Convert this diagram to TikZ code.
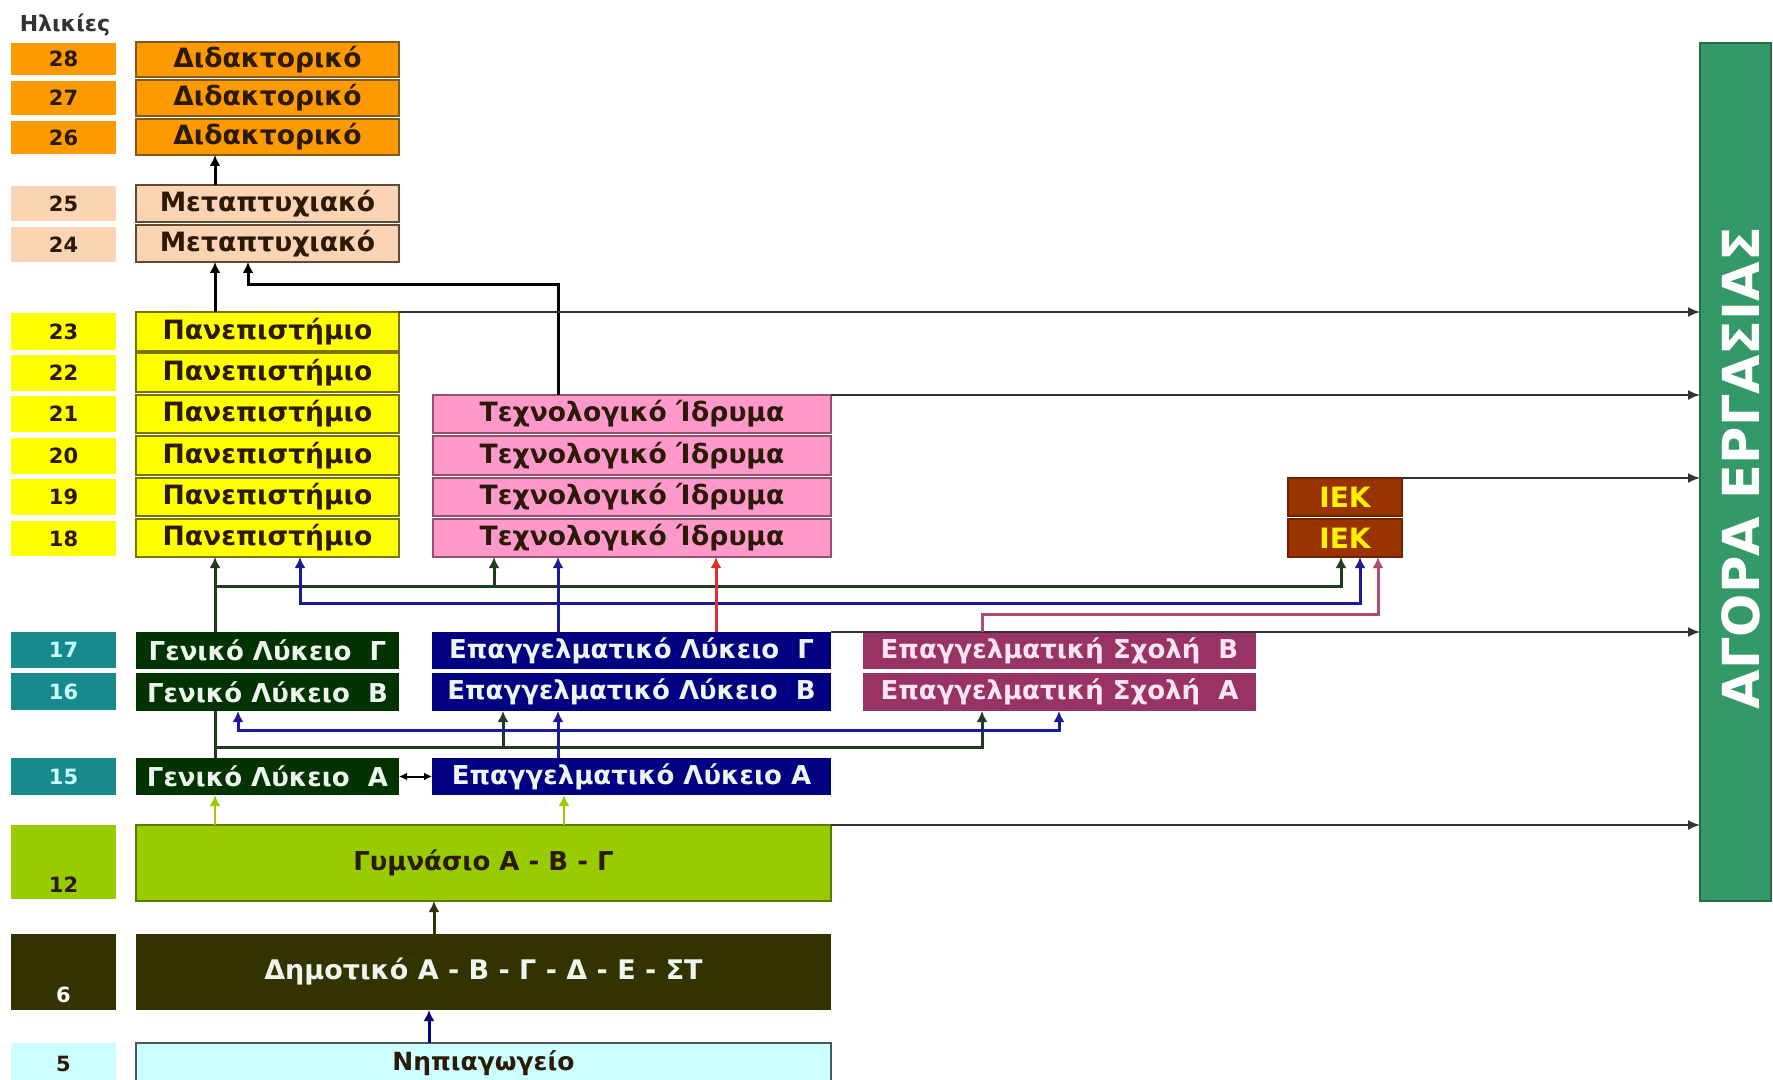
\documentclass[tikz,border=0pt]{standalone}
\usepackage{fontspec}
\setmainfont{DejaVu Sans}
\usetikzlibrary{arrows.meta}
\definecolor{cOr}{HTML}{FF9900}
\definecolor{cOrB}{HTML}{7F5A20}
\definecolor{cPe}{HTML}{FBD4B4}
\definecolor{cPeB}{HTML}{5F4A35}
\definecolor{cYe}{HTML}{FFFF00}
\definecolor{cYeB}{HTML}{7A7400}
\definecolor{cPk}{HTML}{FF99CC}
\definecolor{cPkB}{HTML}{94506F}
\definecolor{cIek}{HTML}{993300}
\definecolor{cIekB}{HTML}{6E2200}
\definecolor{cTeal}{HTML}{168A8C}
\definecolor{cGL}{HTML}{003300}
\definecolor{cEL}{HTML}{000080}
\definecolor{cES}{HTML}{993366}
\definecolor{cGym}{HTML}{99CC00}
\definecolor{cDim}{HTML}{333300}
\definecolor{cNip}{HTML}{CCFFFF}
\definecolor{cMkt}{HTML}{339966}
\definecolor{lnG}{HTML}{1E3D1E}
\definecolor{lnB}{HTML}{1A1A9A}
\definecolor{lnR}{HTML}{E52B2B}
\definecolor{lnM}{HTML}{B34A72}
\definecolor{lnL}{HTML}{99CC00}
\definecolor{txD}{HTML}{2B1A05}
\definecolor{txL}{HTML}{EEF4EE}
\definecolor{txP}{HTML}{FBE6F0}
\newcommand\bxx[7]{\node[#6,minimum width={(#4-#2)*0.5pt},minimum height={(#5-#3)*0.5pt}] (#1) at ({(#2+#4)/2},{(#3+#5)/2}) {#7};}
\tikzset{
  base/.style={inner sep=0pt,outer sep=0pt,align=center},
  agebox/.style={base,font=\bfseries\fontsize{10.5}{12}\selectfont},
  mainbox/.style={base,font=\bfseries\fontsize{13.3}{15}\selectfont,line width=1pt},
  docbox/.style={mainbox,fill=cOr,draw=cOrB,text=txD},
  pgbox/.style={mainbox,fill=cPe,draw=cPeB,text=txD},
  unibox/.style={mainbox,fill=cYe,draw=cYeB,text=txD},
  techbox/.style={mainbox,fill=cPk,draw=cPkB,text=txD},
  iekbox/.style={mainbox,fill=cIek,draw=cIekB,text=yellow,font=\bfseries\fontsize{14}{16}\selectfont},
  glbox/.style={mainbox,fill=cGL,text=txL,font=\bfseries\fontsize{13}{15}\selectfont},
  elbox/.style={mainbox,fill=cEL,text=txL,font=\bfseries\fontsize{13}{15}\selectfont},
  esbox/.style={mainbox,fill=cES,text=txP,font=\bfseries\fontsize{13}{15}\selectfont},
  conn/.style={line width=1.5pt,-{Latex[length=5.5pt,width=5.5pt]}},
  mk/.style={line width=0.9pt,draw=black!80,-{Latex[length=6pt,width=5pt]}}
}
\begin{document}
\begin{tikzpicture}[x=0.5pt,y=-0.5pt]
\useasboundingbox[fill=white] (0,0) rectangle (1773,1080);
\node[font=\bfseries\fontsize{11}{12}\selectfont,text=black!80,inner sep=0pt] (hdr) at (65,25) {Ηλικίες};
% age column
\bxx{a28}{11}{43}{116}{75}{agebox,fill=cOr,text=txD}{28}
\bxx{a27}{11}{81}{116}{115}{agebox,fill=cOr,text=txD}{27}
\bxx{a26}{11}{121}{116}{154}{agebox,fill=cOr,text=txD}{26}
\bxx{a25}{11}{186}{116}{221}{agebox,fill=cPe,text=txD}{25}
\bxx{a24}{11}{227}{116}{262}{agebox,fill=cPe,text=txD}{24}
\bxx{a23}{11}{313}{116}{350}{agebox,fill=cYe,text=txD}{23}
\bxx{a22}{11}{355}{116}{391}{agebox,fill=cYe,text=txD}{22}
\bxx{a21}{11}{396}{116}{432}{agebox,fill=cYe,text=txD}{21}
\bxx{a20}{11}{438}{116}{474}{agebox,fill=cYe,text=txD}{20}
\bxx{a19}{11}{479}{116}{515}{agebox,fill=cYe,text=txD}{19}
\bxx{a18}{11}{521}{116}{556}{agebox,fill=cYe,text=txD}{18}
\bxx{a17}{11}{632}{116}{668}{agebox,fill=cTeal,text=cNip}{17}
\bxx{a16}{11}{673}{116}{710}{agebox,fill=cTeal,text=cNip}{16}
\bxx{a15}{11}{758}{116}{795}{agebox,fill=cTeal,text=cNip}{15}
\bxx{a12}{11}{825}{116}{899}{agebox,fill=cGym}{}
\bxx{a6}{11}{934}{116}{1010}{agebox,fill=cDim}{}
\bxx{a5}{11}{1043}{116}{1090}{agebox,fill=cNip}{}
\node[agebox,text=txD] (l12) at (63.5,885) {12};
\node[agebox,text=white] (l6) at (63.5,995) {6};
\node[agebox,text=txD] (l5) at (63.5,1064) {5};
% doctorate / postgraduate
\bxx{d28}{136}{42}{399}{77}{docbox}{Διδακτορικό}
\bxx{d27}{136}{80}{399}{116}{docbox}{Διδακτορικό}
\bxx{d26}{136}{119}{399}{155}{docbox}{Διδακτορικό}
\bxx{m25}{136}{185}{399}{222}{pgbox}{Μεταπτυχιακό}
\bxx{m24}{136}{225}{399}{262}{pgbox}{Μεταπτυχιακό}
% university
\bxx{u23}{136}{312}{399}{351}{unibox}{Πανεπιστήμιο}
\bxx{u22}{136}{353}{399}{392}{unibox}{Πανεπιστήμιο}
\bxx{u21}{136}{395}{399}{433}{unibox}{Πανεπιστήμιο}
\bxx{u20}{136}{436}{399}{475}{unibox}{Πανεπιστήμιο}
\bxx{u19}{136}{478}{399}{516}{unibox}{Πανεπιστήμιο}
\bxx{u18}{136}{519}{399}{557}{unibox}{Πανεπιστήμιο}
% technological
\bxx{t21}{433}{395}{831}{433}{techbox}{Τεχνολογικό Ίδρυμα}
\bxx{t20}{433}{436}{831}{475}{techbox}{Τεχνολογικό Ίδρυμα}
\bxx{t19}{433}{478}{831}{516}{techbox}{Τεχνολογικό Ίδρυμα}
\bxx{t18}{433}{519}{831}{557}{techbox}{Τεχνολογικό Ίδρυμα}
% IEK
\bxx{iek19}{1288}{478}{1402}{516}{iekbox}{ΙΕΚ}
\bxx{iek18}{1288}{519}{1402}{557}{iekbox}{ΙΕΚ}
% lyceums
\bxx{g17}{136}{632}{399}{669}{glbox}{Γενικό Λύκειο\ \ Γ}
\bxx{g16}{136}{673}{399}{711}{glbox}{Γενικό Λύκειο\ \ Β}
\bxx{g15}{136}{758}{399}{795}{glbox}{Γενικό Λύκειο\ \ Α}
\bxx{e17}{432}{632}{831}{669}{elbox}{Επαγγελματικό Λύκειο\ \ Γ}
\bxx{e16}{432}{673}{831}{711}{elbox}{Επαγγελματικό Λύκειο\ \ Β}
\bxx{e15}{432}{758}{831}{795}{elbox}{Επαγγελματικό Λύκειο Α}
\bxx{s17}{863}{632}{1256}{669}{esbox}{Επαγγελματική Σχολή\ \ Β}
\bxx{s16}{863}{673}{1256}{711}{esbox}{Επαγγελματική Σχολή\ \ Α}
% basic education
\bxx{gym}{136}{825}{831}{901}{mainbox,fill=cGym,draw=cGym!60!black,line width=0.6pt,text=txD,font=\bfseries\fontsize{13}{15}\selectfont}{Γυμνάσιο Α - Β - Γ}
\bxx{dim}{136}{934}{831}{1010}{mainbox,fill=cDim,text=txL,font=\bfseries\fontsize{13.5}{15}\selectfont}{Δημοτικό Α - Β - Γ - Δ - Ε - ΣΤ}
\bxx{nip}{136}{1043}{831}{1083}{mainbox,fill=cNip,draw=cNip!35!black,line width=0.6pt,text=txD,font=\bfseries\fontsize{12.5}{14}\selectfont}{Νηπιαγωγείο}
% labour market
\bxx{mkt}{1700}{43}{1771}{901}{base,fill=cMkt,draw=cMkt!70!black,line width=0.6pt}{}
\node[rotate=90,text=white,font=\bfseries\fontsize{25.5}{28}\selectfont,inner sep=0pt] (mktl) at (1741,468) {ΑΓΟΡΑ ΕΡΓΑΣΙΑΣ};
% helper coordinates
\coordinate (cA) at (215,0);
\coordinate (cB) at (248,0);
\coordinate (cC) at (300,0);
\coordinate (cD) at (238,0);
\coordinate (cE) at (494,0);
\coordinate (cF) at (503,0);
\coordinate (cG) at (558,0);
\coordinate (cH) at (716,0);
\coordinate (cI) at (982,0);
\coordinate (cJ) at (1059,0);
\coordinate (cK) at (1341,0);
\coordinate (cL) at (1360,0);
\coordinate (cM) at (1378,0);
\coordinate (cN) at (564,0);
\coordinate (cO) at (434,0);
\coordinate (cP) at (429,0);
\coordinate (yP) at (0,285);
\coordinate (yG) at (0,586);
\coordinate (yB) at (0,603);
\coordinate (yM) at (0,614);
\coordinate (yB2) at (0,730);
\coordinate (yG2) at (0,747);
% upper black connectors
\draw[conn,black] (m25.north -| cA) -- (d26.south -| cA);
\draw[conn,black] (u23.north -| cA) -- (m24.south -| cA);
\draw[conn,black] (t21.north -| cG) -- (cG |- yP) -- (cB |- yP) -- (m24.south -| cB);
% to labour market
\draw[mk] (u23.north east) -- (u23.north east -| mkt.west);
\draw[mk] (t21.north east) -- (t21.north east -| mkt.west);
\draw[mk] (iek19.north east) -- (iek19.north east -| mkt.west);
\draw[mk] (e17.north east) -- (e17.north east -| mkt.west);
\draw[mk] (gym.north east) -- (gym.north east -| mkt.west);
% from lyceum C upwards
\draw[conn,lnG] (g17.north -| cA) -- (u18.south -| cA);
\draw[conn,lnG] (cA |- yG) -- (cK |- yG) -- (iek18.south -| cK);
\draw[conn,lnG] (cE |- yG) -- (t18.south -| cE);
\draw[line width=1.5pt,lnB,{Latex[length=5.5pt,width=5.5pt]}-{Latex[length=5.5pt,width=5.5pt]}] (u18.south -| cC) -- (cC |- yB) -- (cL |- yB) -- (iek18.south -| cL);
\draw[conn,lnB] (e17.north -| cG) -- (t18.south -| cG);
\draw[conn,lnR] (e17.north -| cH) -- (t18.south -| cH);
\draw[conn,lnM] (s17.north -| cI) -- (cI |- yM) -- (cM |- yM) -- (iek18.south -| cM);
% between A and B classes
\draw[line width=1.5pt,lnG] (g16.south -| cA) -- (g15.north -| cA);
\draw[conn,lnG] (g15.north -| cA) -- (cA |- yG2) -- (cI |- yG2) -- (s16.south -| cI);
\draw[conn,lnG] (cF |- yG2) -- (e16.south -| cF);
\draw[line width=1.5pt,lnB,{Latex[length=5.5pt,width=5.5pt]}-{Latex[length=5.5pt,width=5.5pt]}] (g16.south -| cD) -- (cD |- yB2) -- (cJ |- yB2) -- (s16.south -| cJ);
\draw[conn,lnB] (e15.north -| cG) -- (e16.south -| cG);
\draw[line width=1pt,black,{Latex[length=4pt,width=4pt]}-{Latex[length=4pt,width=4pt]}] (g15.east) -- (e15.west);
% basic education arrows
\draw[conn,lnL,line width=1.2pt] (gym.north -| cA) -- (g15.south -| cA);
\draw[conn,lnL,line width=1.2pt] (gym.north -| cN) -- (e15.south -| cN);
\draw[conn,cDim] (dim.north -| cO) -- (gym.south -| cO);
\draw[conn,cEL] (nip.north -| cP) -- (dim.south -| cP);
\end{tikzpicture}
\end{document}
